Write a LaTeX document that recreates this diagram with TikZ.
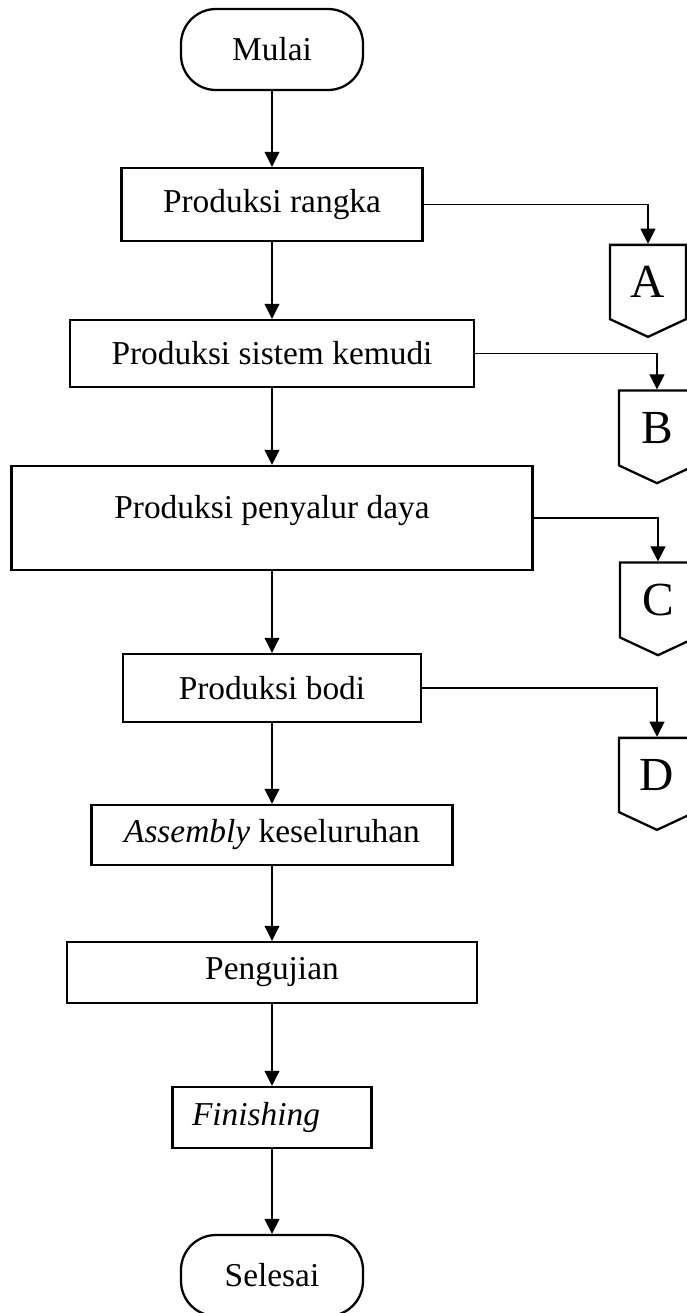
\documentclass[tikz,border=0pt]{standalone}
\usepackage{fontspec}
\setmainfont{Liberation Serif}
\usetikzlibrary{arrows.meta,shapes.symbols}

\begin{document}
\begin{tikzpicture}[node distance=3cm, auto,
        block/.style={rectangle, draw, line width=1.4pt, text centered, font=\fontsize{19}{23}\selectfont},
        term/.style={rectangle, draw, line width=1.3pt, rounded corners=0.7cm, minimum width=3.64cm, minimum height=1.62cm, font=\fontsize{19}{23}\selectfont},
        offpage/.style={signal, signal to=south, signal pointer angle=130, draw, line width=1.3pt, minimum width=1.52cm, minimum height=1.7cm, font=\fontsize{27}{30}\selectfont},
        line/.style={draw, line width=0.6pt, -{Triangle[width=0.3cm,length=0.3cm]}}]
        \useasboundingbox (0,0) rectangle (13.74,-26.26);
        \node[term] (mulai) at (5.44,-0.99) {Mulai};
        \node[block, below of=mulai, node distance=3.1cm, minimum width=6.02cm, minimum height=1.46cm] (rangka) {Produksi rangka};
        \node[block, below of=rangka, node distance=2.98cm, minimum width=8.08cm, minimum height=1.34cm] (kemudi) {Produksi sistem kemudi};
        \node[block, below of=kemudi, node distance=3.29cm, minimum width=10.42cm, minimum height=2.08cm, text depth=0.44cm] (penyalur) {Produksi penyalur daya};
        \node[block, below of=penyalur, node distance=3.4cm, minimum width=5.96cm, minimum height=1.36cm] (bodi) {Produksi bodi};
        \node[block, below of=bodi, node distance=2.94cm, minimum width=7.22cm, minimum height=1.2cm] (assembly) {\textit{Assembly} keseluruhan};
        \node[block, below of=assembly, node distance=2.75cm, minimum width=8.2cm, minimum height=1.22cm] (uji) {Pengujian};
        \node[block, below of=uji, node distance=2.9cm, minimum width=3.98cm, minimum height=1.22cm] (finishing) {\textit{Finishing}\rule{0.64cm}{0pt}};
        \node[term, below of=finishing, node distance=3.16cm] (selesai) {Selesai};
        % penghubung ke halaman lain
        \node[offpage] (offA) at (12.96,-5.64) {A};
        \node[offpage] (offB) at (13.14,-8.56) {B};
        \node[offpage] (offC) at (13.16,-12.0) {C};
        \node[offpage] (offD) at (13.14,-15.5) {D};
        \draw[line] (mulai) -- (rangka);
        \draw[line] (rangka) -- (kemudi);
        \draw[line] (kemudi) -- (penyalur);
        \draw[line] (penyalur) -- (bodi);
        \draw[line] (bodi) -- (assembly);
        \draw[line] (assembly) -- (uji);
        \draw[line] (uji) -- (finishing);
        \draw[line] (finishing) -- (selesai);
        \draw[line] (rangka.east) -| (offA);
        \draw[line] (kemudi.east) -| (offB);
        \draw[line] (penyalur.east) -| (offC);
        \draw[line] (bodi.east) -| (offD);
    \end{tikzpicture}
\end{document}
